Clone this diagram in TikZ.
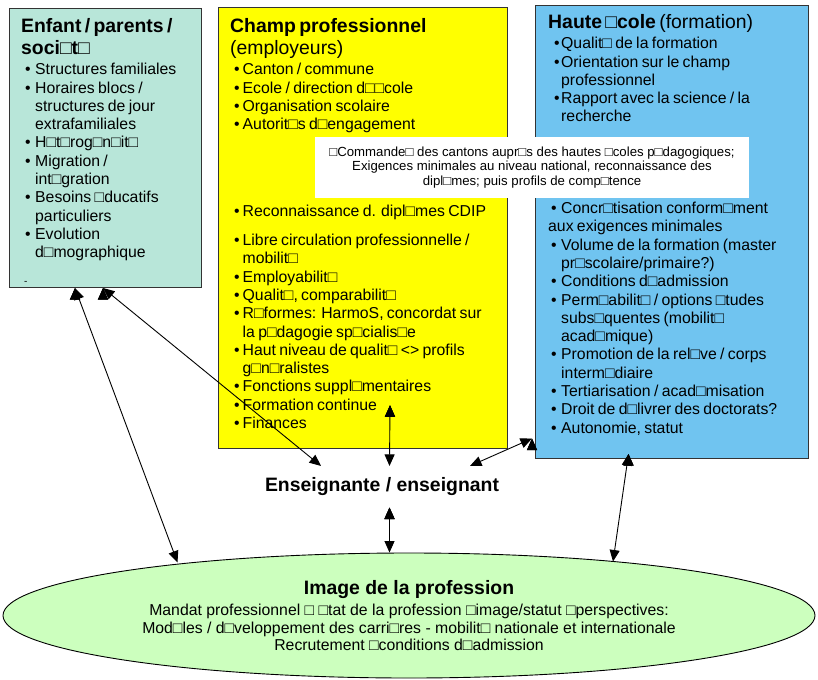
\documentclass[tikz,border=0pt]{standalone}
\usepackage{fontspec}
\setmainfont{Liberation Sans}
\usetikzlibrary{shapes,arrows.meta,positioning}

\definecolor{enfantfill}{RGB}{184,230,217}
\definecolor{champfill}{RGB}{255,255,0}
\definecolor{hautefill}{RGB}{112,196,240}
\definecolor{imagefill}{RGB}{204,255,190}

\newlength{\bulind}
\newlength{\txtind}
\newcommand{\hd}{\fontsize{19.4}{22}\selectfont}
\newcommand{\bd}{\fontsize{15.8}{18.3}\selectfont}
\newcommand{\itm}[1]{\par\hangindent=\txtind\hangafter=1\noindent\hspace*{\bulind}\makebox[\dimexpr\txtind-\bulind\relax][l]{•}#1}

\tikzstyle{field} = [rectangle, draw=black!80, line width=1pt, anchor=north west, inner sep=0pt]
\tikzstyle{txt} = [inner sep=0pt, text width=300pt, execute at begin node={\raggedright\parindent=0pt}]
\tikzstyle{note} = [fill=white, inner sep=0pt, align=center, font=\fontsize{13.2}{14.6}\selectfont]
\tikzstyle{link} = [draw, line width=0.9pt, >={Triangle[length=11.5pt,width=10pt]}, <->]

\begin{document}
\begin{tikzpicture}[x=1pt, y=-1pt]
\useasboundingbox (0,0) rectangle (818,679);

% boxes =============================
\node[field, fill=enfantfill, minimum width=192pt, minimum height=279pt] (enfant) at (9,8) {};
\node[field, fill=champfill, minimum width=289pt, minimum height=441.3pt] (champ) at (218,7) {};
\node[field, fill=hautefill, minimum width=273pt, minimum height=453pt] (haute) at (535,5) {};

% box texts
\node[txt, below right=9.3pt and 12pt of enfant.north west] (enfanttxt) {\setlength{\bulind}{4pt}\setlength{\txtind}{14pt}%
{\hd\bfseries\rule{0pt}{15pt}Enfant / parents /\newline soci□t□\par}
\bd\vspace{2pt}
\itm{Structures familiales}
\itm{Horaires blocs /\newline structures de jour\newline extrafamiliales}
\itm{H□t□rog□n□it□}
\itm{Migration /\newline int□gration}
\itm{Besoins □ducatifs\newline particuliers}
\itm{Evolution\newline d□mographique}
\par\vspace{8pt}\hspace*{3pt}{\fontsize{10}{18.3}\selectfont -\par}};

\node[txt, below right=10.3pt and 12pt of champ.north west] (champtxt) {\setlength{\bulind}{4pt}\setlength{\txtind}{12.5pt}%
{\hd\bfseries\rule{0pt}{15pt}Champ professionnel\par}
{\hd (employeurs)\par}
\bd\vspace{2pt}
\itm{Canton / commune}
\itm{Ecole / direction d□□cole}
\itm{Organisation scolaire}
\itm{Autorit□s d□engagement}\par};

\node[txt, below right=191pt and 12pt of champ.north west] (champlist) {\setlength{\bulind}{4pt}\setlength{\txtind}{12.5pt}\bd
\itm{\rule{0pt}{12pt}Reconnaissance d. dipl□mes CDIP}
\par\vspace{10.7pt}
\itm{Libre circulation professionnelle /\newline mobilit□}
\itm{Employabilit□}
\itm{Qualit□, comparabilit□}
\itm{R□formes: HarmoS, concordat sur\newline la p□dagogie sp□cialis□e}
\itm{Haut niveau de qualit□ <> profils\newline g□n□ralistes}
\itm{Fonctions suppl□mentaires}
\itm{Formation continue}
\itm{Finances}\par};

\node[txt, below right=8.3pt and 13pt of haute.north west] (hautetxt) {\setlength{\bulind}{6pt}\setlength{\txtind}{13pt}%
{\hd\rule{0pt}{15pt}\textbf{Haute □cole} (formation)\par}
\bd\vspace{2pt}
\itm{Qualit□ de la formation}
\itm{Orientation sur le champ\newline professionnel}
\itm{Rapport avec la science / la\newline recherche}\par};

\node[txt, below right=196.3pt and 13pt of haute.north west] (hautelist) {\setlength{\bulind}{3pt}\setlength{\txtind}{13pt}\bd
\noindent\hspace*{\bulind}\makebox[10pt][l]{•}\rule{0pt}{12pt}Concr□tisation conform□ment\newline aux exigences minimales
\itm{Volume de la formation (master\newline pr□scolaire/primaire?)}
\itm{Conditions d□admission}
\itm{Perm□abilit□ / options □tudes\newline subs□quentes (mobilit□\newline acad□mique)}
\itm{Promotion de la rel□ve / corps\newline interm□diaire}
\itm{Tertiarisation / acad□misation}
\itm{Droit de d□livrer des doctorats?}
\itm{Autonomie, statut}\par};

% mandate note
\node[note, minimum width=434pt, minimum height=61pt] (cmd) at (532,167.5) {□Commande□ des cantons aupr□s des hautes □coles p□dagogiques;\\
Exigences minimales au niveau national, reconnaissance des\\
dipl□mes; puis profils de comp□tence};

% teacher and image
\node[font=\hd\bfseries, inner xsep=0pt, inner ysep=11.5pt, anchor=base] (ens) at (382,491.7) {Enseignante / enseignant};

\node[ellipse, draw=black, line width=0.9pt, fill=imagefill, minimum width=812pt, minimum height=125pt, inner sep=0pt, align=center, font=\fontsize{15.8}{17.7}\selectfont] (img) at (409,615.5) {{\hd\bfseries\rule{0pt}{15pt}Image de la profession}\\[3pt]
Mandat professionnel □ □tat de la profession □image/statut □perspectives:\\
Mod□les / d□veloppement des carri□res - mobilit□ nationale et internationale\\
Recrutement □conditions d□admission};

% edges
\path[link] ([xshift=66pt]enfant.south west) edge ([xshift=-231.5pt,yshift=53pt]img.center);
\path[link] ([xshift=94pt]enfant.south west) edge ([xshift=-61pt]ens.north);
\path[link] ([xshift=27pt,yshift=44pt]champ.south) edge ([xshift=7.5pt]ens.north);
\path[link] ([xshift=-3pt,yshift=-206.5pt]haute.west) edge ([xshift=88pt]ens.north);
\path[link] ([xshift=7.5pt]ens.south) edge ([xshift=-19.5pt]img.north);
\path[link] ([xshift=-43.5pt,yshift=5pt]haute.south) edge ([xshift=204pt,yshift=54pt]img.center);

\end{tikzpicture}
\end{document}
